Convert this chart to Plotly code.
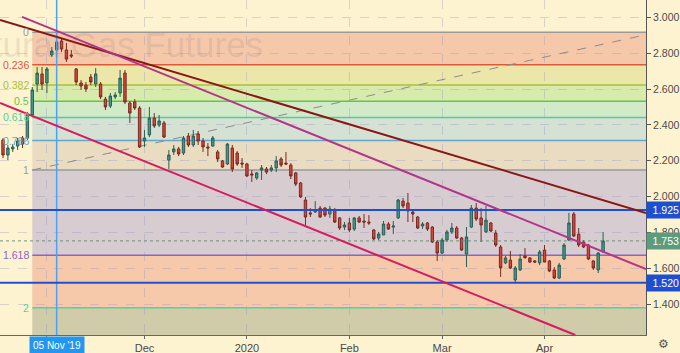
import plotly.graph_objects as go

# ---------------- data (daily OHLC) ----------------
opens = [2.316,2.232,2.266,2.282,2.327,2.327,2.455,2.628,2.684,2.634,
         2.790,2.818,2.868,2.818,2.790,2.712,2.634,2.622,2.667,2.628,
         2.628,2.544,2.505,2.556,2.578,2.689,2.522,2.528,2.494,2.310,
         2.344,2.438,2.399,2.411,2.204,2.249,2.266,2.243,2.338,2.288,
         2.349,2.310,2.277,2.282,2.249,2.199,2.182,2.271,2.243,2.187,
         2.182,2.126,2.104,2.148,2.154,2.148,2.160,2.210,2.187,2.176,
         2.132,2.076,1.981,1.909,1.914,1.936,1.936,1.903,1.925,1.881,
         1.830,1.853,1.819,1.881,1.864,1.858,1.814,1.769,1.786,1.847,
         1.830,1.881,1.975,1.964,1.914,1.886,1.836,1.853,1.830,1.747,
         1.685,1.758,1.803,1.825,1.769,1.680,1.830,1.936,1.881,1.803,
         1.853,1.797,1.719,1.630,1.646,1.535,1.591,1.669,1.658,1.641,
         1.630,1.702,1.641,1.591,1.546,1.652,1.758,1.903,1.791,1.747,
         1.730,1.641,1.591,1.691]
highs = [2.327,2.288,2.293,2.327,2.338,2.472,2.611,2.723,2.723,2.723,
         2.834,2.873,2.885,2.857,2.818,2.717,2.650,2.639,2.684,2.717,
         2.639,2.556,2.578,2.583,2.706,2.706,2.533,2.544,2.505,2.372,
         2.500,2.466,2.455,2.422,2.260,2.288,2.277,2.338,2.355,2.372,
         2.366,2.327,2.299,2.338,2.260,2.204,2.299,2.288,2.254,2.215,
         2.187,2.148,2.137,2.176,2.165,2.176,2.226,2.221,2.249,2.187,
         2.137,2.082,1.998,1.936,1.975,1.948,1.942,1.948,1.936,1.886,
         1.858,1.881,1.886,1.892,1.903,1.897,1.819,1.803,1.864,1.858,
         1.864,1.987,1.992,2.020,1.925,1.892,1.858,1.858,1.836,1.758,
         1.769,1.814,1.853,1.836,1.775,1.830,1.953,1.964,1.936,1.948,
         1.858,1.814,1.730,1.669,1.697,1.613,1.680,1.713,1.663,1.646,
         1.702,1.730,1.646,1.607,1.630,1.741,1.909,1.914,1.825,1.758,
         1.736,1.646,1.691,1.803]
lows = [2.215,2.204,2.249,2.260,2.271,2.316,2.444,2.583,2.595,2.578,
        2.779,2.807,2.807,2.751,2.773,2.622,2.595,2.583,2.622,2.611,
        2.544,2.483,2.494,2.544,2.556,2.516,2.411,2.483,2.271,2.277,
        2.332,2.383,2.388,2.327,2.154,2.232,2.226,2.232,2.277,2.277,
        2.288,2.249,2.226,2.277,2.193,2.160,2.176,2.137,2.171,2.160,
        2.109,2.082,2.093,2.093,2.126,2.137,2.137,2.165,2.176,2.098,
        2.059,1.992,1.842,1.886,1.909,1.881,1.886,1.881,1.853,1.814,
        1.814,1.803,1.808,1.853,1.825,1.842,1.758,1.758,1.786,1.814,
        1.791,1.875,1.936,1.858,1.858,1.819,1.819,1.808,1.741,1.641,
        1.680,1.747,1.791,1.764,1.697,1.607,1.825,1.864,1.747,1.797,
        1.803,1.719,1.552,1.624,1.596,1.518,1.585,1.658,1.630,1.630,
        1.618,1.635,1.579,1.540,1.540,1.646,1.752,1.775,1.719,1.713,
        1.646,1.591,1.574,1.691]
closes = [2.232,2.271,2.277,2.310,2.293,2.455,2.595,2.689,2.628,2.712,
          2.812,2.862,2.823,2.767,2.784,2.639,2.617,2.600,2.639,2.684,
          2.556,2.500,2.561,2.567,2.661,2.528,2.466,2.494,2.277,2.327,
          2.438,2.394,2.422,2.332,2.232,2.266,2.238,2.327,2.288,2.338,
          2.310,2.277,2.271,2.327,2.210,2.165,2.293,2.154,2.182,2.182,
          2.115,2.121,2.132,2.160,2.137,2.160,2.199,2.176,2.182,2.115,
          2.070,1.998,1.886,1.903,1.925,1.886,1.897,1.931,1.858,1.825,
          1.842,1.814,1.881,1.858,1.858,1.853,1.764,1.791,1.847,1.819,
          1.836,1.981,1.948,1.920,1.903,1.825,1.847,1.819,1.747,1.685,
          1.758,1.803,1.825,1.769,1.702,1.775,1.936,1.875,1.842,1.869,
          1.808,1.730,1.602,1.658,1.602,1.602,1.652,1.658,1.635,1.635,
          1.691,1.635,1.585,1.546,1.618,1.730,1.853,1.780,1.730,1.719,
          1.652,1.602,1.685,1.753]

# month gridlines; the Nov label is hidden under the marker label in the reference
month_labels = ["", "Dec", "2020", "Feb", "Mar", "Apr"]
month_bars = [9, 29, 50, 71, 90, 111]
price_ticks = [1.4, 1.6, 1.8, 2.0, 2.2, 2.4, 2.6, 2.8, 3.0]

# Fibonacci retracement
fib_start_bar = 6
fib_end_bar = 134
fib_price_1 = 2.148   # level 1
fib_price_0 = 2.916   # level 0
fib_levels = [0, 0.236, 0.382, 0.5, 0.618, 0.786, 1, 1.618, 2, 2.618]
fib_labels = ["0", "0.236", "0.382", "0.5", "0.618", "0.786", "1", "1.618", "2"]
fib_line_colors = ["#9a9a9a", "#e0573c", "#a9c23a", "#5cc94a", "#4fcfa0",
                   "#62a8cc", "#9a9a9a", "#8866c4", "#52d49c"]
fib_band_colors = ["#f5c8aa", "#ece6a8", "#d9eaad", "#d3eac8", "#d4e1d3",
                   "#e9dcc0", "#d7cdd1", "#f5c9aa", "#d0cba8"]

# drawn trend lines: ((bar, price), (bar, price))
line_dark_red = ((-0.6, 2.985), (131.8, 1.909))
line_magenta = ((3.9, 3.002), (131.8, 1.596))
line_crimson = ((-0.6, 2.522), (117.3, 1.228))

h_levels = [1.925, 1.520]
last_price = 1.753
marker_bar = 11
marker_label = "05 Nov '19"

x_range = [-0.615, 131.8]
y_range = [1.2282, 3.0965]

BG = "#fdf3d1"
FONT = "Liberation Sans, Arial, sans-serif"

fig = go.Figure()

fig.add_trace(go.Candlestick(
    x=list(range(len(opens))), open=opens, high=highs, low=lows, close=closes,
    increasing=dict(line=dict(color="#2c5e55", width=1), fillcolor="#3f9c8b"),
    decreasing=dict(line=dict(color="#7a2a22", width=1), fillcolor="#d6463c"),
    whiskerwidth=0, showlegend=False, hoverinfo="skip"))

shapes = []

def fib_price(lv):
    return fib_price_0 - lv * (fib_price_0 - fib_price_1)

# bands
for i in range(len(fib_levels) - 1):
    shapes.append(dict(type="rect", xref="x", yref="y", layer="below",
                       x0=fib_start_bar, x1=x_range[1] + 20,
                       y0=fib_price(fib_levels[i]), y1=fib_price(fib_levels[i + 1]),
                       fillcolor=fib_band_colors[i], line=dict(width=0)))
# level lines
for i, lab in enumerate(fib_labels):
    shapes.append(dict(type="line", xref="x", yref="y", layer="between",
                       x0=fib_start_bar, x1=x_range[1] + 20,
                       y0=fib_price(fib_levels[i]), y1=fib_price(fib_levels[i]),
                       line=dict(color=fib_line_colors[i], width=1.5)))
# fib diagonal
shapes.append(dict(type="line", xref="x", yref="y", layer="between",
                   x0=fib_start_bar, y0=fib_price_1, x1=fib_end_bar, y1=fib_price_0,
                   line=dict(color="#8c8c8c", width=1, dash="dash")))

# vertical marker
shapes.append(dict(type="line", xref="x", yref="paper", x0=marker_bar, x1=marker_bar,
                   y0=0, y1=1, line=dict(color="#4da3f2", width=1.5), layer="above"))

# last price dotted
shapes.append(dict(type="line", xref="paper", yref="y", x0=0, x1=1,
                   y0=last_price, y1=last_price, layer="above",
                   line=dict(color="#6f8f80", width=1, dash="dot")))

# horizontal levels
for lv in h_levels:
    shapes.append(dict(type="line", xref="paper", yref="y", x0=0, x1=1, y0=lv, y1=lv,
                       layer="above", line=dict(color="#1f4fd1", width=2)))

# trend lines
for (p0, p1), col in [(line_dark_red, "#8a1616"), (line_magenta, "#b2358a"),
                      (line_crimson, "#d61b5e")]:
    shapes.append(dict(type="line", xref="x", yref="y", x0=p0[0], y0=p0[1],
                       x1=p1[0], y1=p1[1], layer="above",
                       line=dict(color=col, width=2)))

annotations = []
# watermark
annotations.append(dict(xref="paper", yref="y", x=265 / 646, y=2.85, xanchor="right",
                        yanchor="middle", text="Natural Gas Futures", showarrow=False,
                        font=dict(size=35, color="rgba(110,100,90,0.15)", family=FONT)))
# fib labels
for i, lab in enumerate(fib_labels):
    annotations.append(dict(xref="x", yref="y", x=fib_start_bar - 0.35,
                            y=fib_price(fib_levels[i]), xanchor="right", yanchor="middle",
                            text=lab, showarrow=False,
                            font=dict(size=10.5, color=fib_line_colors[i], family=FONT)))
# right axis price labels
for lv, bg in [(h_levels[0], "#1f4fd1"), (last_price, "#5c9c7c"), (h_levels[1], "#1f4fd1")]:
    annotations.append(dict(xref="paper", yref="y", x=1, y=lv, xanchor="left",
                            yanchor="middle", text="%.3f" % lv, showarrow=False,
                            bgcolor=bg, borderpad=2, width=30, align="right",
                            font=dict(size=10.5, color="white", family=FONT)))
# marker label
annotations.append(dict(xref="x", yref="paper", x=marker_bar, y=0, xanchor="center",
                        yanchor="top", yshift=-1, text=marker_label, showarrow=False,
                        bgcolor="#2196f3", borderpad=3,
                        font=dict(size=10, color="white", family=FONT)))
# gear icon
annotations.append(dict(xref="paper", yref="paper", x=1, y=0, xanchor="left", yanchor="top",
                        xshift=10, yshift=0, text="⚙", showarrow=False,
                        font=dict(size=12, color="#555555", family="DejaVu Sans")))

fig.update_layout(
    width=680, height=353,
    margin=dict(l=0, r=34, t=0, b=18),
    paper_bgcolor=BG, plot_bgcolor=BG,
    font=dict(family=FONT, size=11, color="#4a4a4a"),
    shapes=shapes, annotations=annotations,
    showlegend=False,
    xaxis=dict(range=x_range, rangeslider=dict(visible=False),
               tickvals=month_bars, ticktext=month_labels,
               showgrid=True, gridcolor="rgba(150,150,190,0.35)", griddash="dash",
               showline=True, linecolor="#666666", linewidth=1,
               ticks="outside", ticklen=3, tickcolor="#666666",
               zeroline=False, fixedrange=True, tickfont=dict(size=11, color="#4a4a4a")),
    yaxis=dict(range=y_range, side="right", tickvals=price_ticks, tickformat=".3f",
               showgrid=True, gridcolor="rgba(150,150,190,0.35)", griddash="dash",
               showline=True, linecolor="#555555", linewidth=1,
               ticks="outside", ticklen=4, tickcolor="#555555",
               zeroline=False, fixedrange=True, tickfont=dict(size=10.5, color="#4a4a4a")),
)

fig.write_html("out.html")
